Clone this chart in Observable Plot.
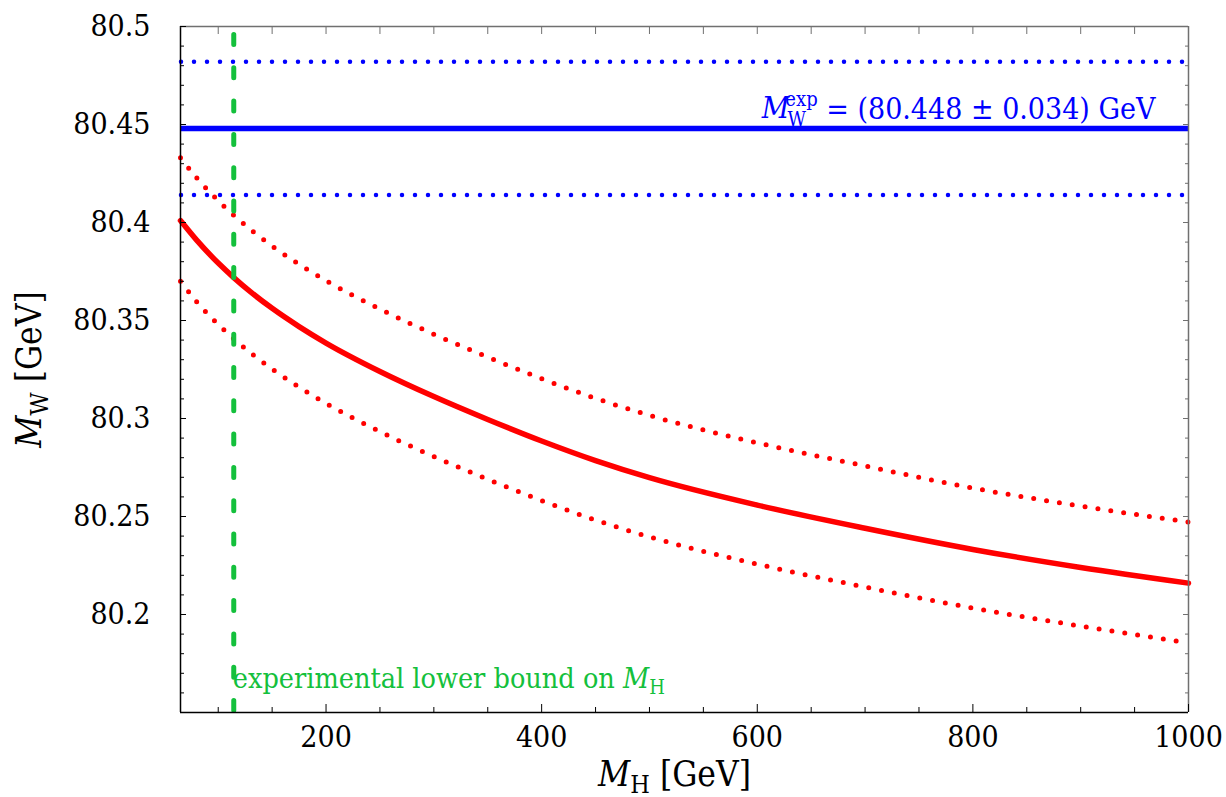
<!DOCTYPE html>
<html>
<head>
<meta charset="utf-8">
<script src="https://cdn.jsdelivr.net/npm/d3@7"></script>
<script src="https://cdn.jsdelivr.net/npm/@observablehq/plot@0.6"></script>
<style>
  html, body { margin: 0; padding: 0; background: #fff; }
  #chart svg, #chart svg text, #chart svg tspan { font-family: "DejaVu Serif", serif !important; }
  #chart svg text.cond { font-stretch: condensed; }
</style>
</head>
<body>
<div id="chart"></div>
<script>
// ---- data ----
const mH        = [65, 80, 100, 114.4, 130, 150, 175, 200, 250, 300, 350, 400, 450, 500, 600, 700, 800, 900, 1000];
const mWCentral = [80.4010, 80.3910, 80.3793, 80.3719, 80.3646, 80.3562, 80.3469, 80.3385, 80.3240, 80.3112, 80.2995, 80.2885, 80.2785, 80.2698, 80.2558, 80.2440, 80.2332, 80.2240, 80.2160];
const mWUpper   = [80.4330, 80.4228, 80.4111, 80.4037, 80.3964, 80.3880, 80.3787, 80.3703, 80.3558, 80.3430, 80.3313, 80.3203, 80.3103, 80.3016, 80.2876, 80.2758, 80.2645, 80.2553, 80.2472];
const mWLower   = [80.3700, 80.3596, 80.3480, 80.3407, 80.3335, 80.3252, 80.3160, 80.3077, 80.2933, 80.2806, 80.2690, 80.2581, 80.2482, 80.2396, 80.2257, 80.2140, 80.2033, 80.1941, 80.1855];

const mWExp = 80.448;
const mWExpBand = [80.414, 80.482];
const mHBound = 114.4;

const xDomain = [65, 1000];
const yDomain = [80.15, 80.5];
const xMajorTicks = [200, 400, 600, 800, 1000];
const xMinorTicks = [100, 150, 250, 300, 350, 450, 500, 550, 650, 700, 750, 850, 900, 950];
const yMajorTicks = [80.2, 80.25, 80.3, 80.35, 80.4, 80.45, 80.5];
const yMinorTicks = d3.range(16, 50).map(i => +(80 + i / 100).toFixed(2)).filter(v => !yMajorTicks.includes(v));

const expLabel = "M_W^exp = (80.448 ± 0.034) GeV";
const boundLabel = "experimental lower bound on M_H";
const xLabel = "M_H [GeV]";
const yLabel = "M_W [GeV]";

const central = mH.map((x, i) => ({x, y: mWCentral[i]}));
const upper = mH.map((x, i) => ({x, y: mWUpper[i]}));
const lower = mH.map((x, i) => ({x, y: mWLower[i]}));

const RED = "#ff0000", BLUE = "#0000ff", GREEN = "#14c03c", GRAY = "#707070";
const FONT = "DejaVu Serif";
const tickFmt = d => String(+d.toFixed(2));

const chart = Plot.plot({
  width: 1226,
  height: 797,
  marginLeft: 180,
  marginRight: 38,
  marginTop: 26,
  marginBottom: 85,
  style: {fontFamily: FONT, background: "white"},
  x: {domain: xDomain, label: null},
  y: {domain: yDomain, label: null},
  marks: [
    Plot.ruleY(mWExpBand, {stroke: BLUE, strokeWidth: 4.5, strokeDasharray: "0,13", strokeLinecap: "round", strokeDashoffset: -1}),
    Plot.ruleY([mWExp], {stroke: BLUE, strokeWidth: 5.5}),
    Plot.line(upper, {x: "x", y: "y", curve: "monotone-x", stroke: RED, strokeWidth: 5, strokeDasharray: "0,13", strokeLinecap: "round"}),
    Plot.line(lower, {x: "x", y: "y", curve: "monotone-x", stroke: RED, strokeWidth: 5, strokeDasharray: "0,13", strokeLinecap: "round"}),
    Plot.line(central, {x: "x", y: "y", curve: "monotone-x", stroke: RED, strokeWidth: 5.5}),
    Plot.ruleX([mHBound], {stroke: GREEN, strokeWidth: 5, strokeDasharray: "10,23.3", strokeDashoffset: 24.8, strokeLinecap: "round"}),
    Plot.ruleX([xDomain[0]], {stroke: "black", strokeWidth: 1.5}),
    Plot.ruleY([yDomain[0]], {stroke: "black", strokeWidth: 1.5}),
    Plot.ruleX([xDomain[1]], {stroke: GRAY, strokeWidth: 1.5}),
    Plot.ruleY([yDomain[1]], {stroke: GRAY, strokeWidth: 1.5}),
    Plot.axisX({anchor: "bottom", ticks: xMajorTicks, tickSize: -8, tickPadding: 21, tickFormat: d => String(d), fontSize: 30, fontFamily: FONT, color: "black", label: null}),
    Plot.axisX({anchor: "bottom", ticks: xMinorTicks, tickSize: -5, fill: "none", stroke: "black", label: null}),
    Plot.axisX({anchor: "top", ticks: xMajorTicks.concat(xMinorTicks), tickSize: -7, fill: "none", stroke: GRAY, label: null}),
    Plot.axisY({anchor: "left", ticks: yMajorTicks, tickSize: -6, tickPadding: 36, tickFormat: tickFmt, fontSize: 30, fontFamily: FONT, color: "black", label: null}),
    Plot.axisY({anchor: "left", ticks: yMinorTicks, tickSize: -4, fill: "none", stroke: "black", label: null}),
    Plot.axisY({anchor: "right", ticks: yMajorTicks, tickSize: -6, fill: "none", stroke: GRAY, label: null}),
    Plot.axisY({anchor: "right", ticks: yMinorTicks, tickSize: -4, fill: "none", stroke: GRAY, label: null}),
    Plot.text([{y: mWExp, t: expLabel}], {y: "y", text: "t", frameAnchor: "right", textAnchor: "end", lineAnchor: "bottom", dx: -33, dy: -10, fill: BLUE, fontSize: 30, fontFamily: FONT}),
    Plot.text([{x: mHBound, t: boundLabel}], {x: "x", text: "t", frameAnchor: "bottom", textAnchor: "start", lineAnchor: "bottom", dx: -1, dy: -25, fill: GREEN, fontSize: 28.5, fontFamily: FONT}),
    Plot.text([xLabel], {text: d => d, frameAnchor: "bottom", textAnchor: "middle", lineAnchor: "bottom", dx: -10, dy: 73, fill: "black", fontSize: 35, fontFamily: FONT}),
    Plot.text([yLabel], {text: d => d, frameAnchor: "left", textAnchor: "middle", lineAnchor: "bottom", rotate: -90, dx: -140, fill: "black", fontSize: 35, fontFamily: FONT})
  ]
});

document.getElementById("chart").appendChild(chart);

const NS = "http://www.w3.org/2000/svg";
function rich(el, parts) {
  el.textContent = "";
  for (const p of parts) {
    const t = document.createElementNS(NS, "tspan");
    t.textContent = p.t;
    if (p.italic) t.setAttribute("font-style", "italic");
    if (p.size) t.setAttribute("font-size", p.size);
    if (p.dy) t.setAttribute("dy", p.dy);
    if (p.dx) t.setAttribute("dx", p.dx);
    el.appendChild(t);
  }
}
chart.querySelectorAll("text").forEach(el => {
  el.setAttribute("font-family", FONT);
  el.classList.add("cond");
  const s = el.textContent;
  const fs = parseFloat(getComputedStyle(el).fontSize) || 30;
  if (s === xLabel || s === yLabel) {
    const sub = s === xLabel ? "H" : "W";
    rich(el, [
      {t: "M", italic: true},
      {t: sub, size: Math.round(fs * 0.7), dy: Math.round(fs * 0.2)},
      {t: " [GeV]", dy: -Math.round(fs * 0.2)}
    ]);
  } else if (s === boundLabel) {
    rich(el, [
      {t: "experimental lower bound on "},
      {t: "M", italic: true},
      {t: "H", size: Math.round(fs * 0.7), dy: Math.round(fs * 0.2)}
    ]);
  } else if (s === expLabel) {
    const small = Math.round(fs * 0.68);
    rich(el, [
      {t: "M", italic: true},
      {t: "W", size: small, dy: Math.round(fs * 0.25), dx: -2},
      {t: "exp", size: small, dy: -Math.round(fs * 0.68), dx: -Math.round(small * 0.94)},
      {t: " = (80.448 ± 0.034) GeV", dy: Math.round(fs * 0.43)}
    ]);
  }
});
</script>
</body>
</html>
